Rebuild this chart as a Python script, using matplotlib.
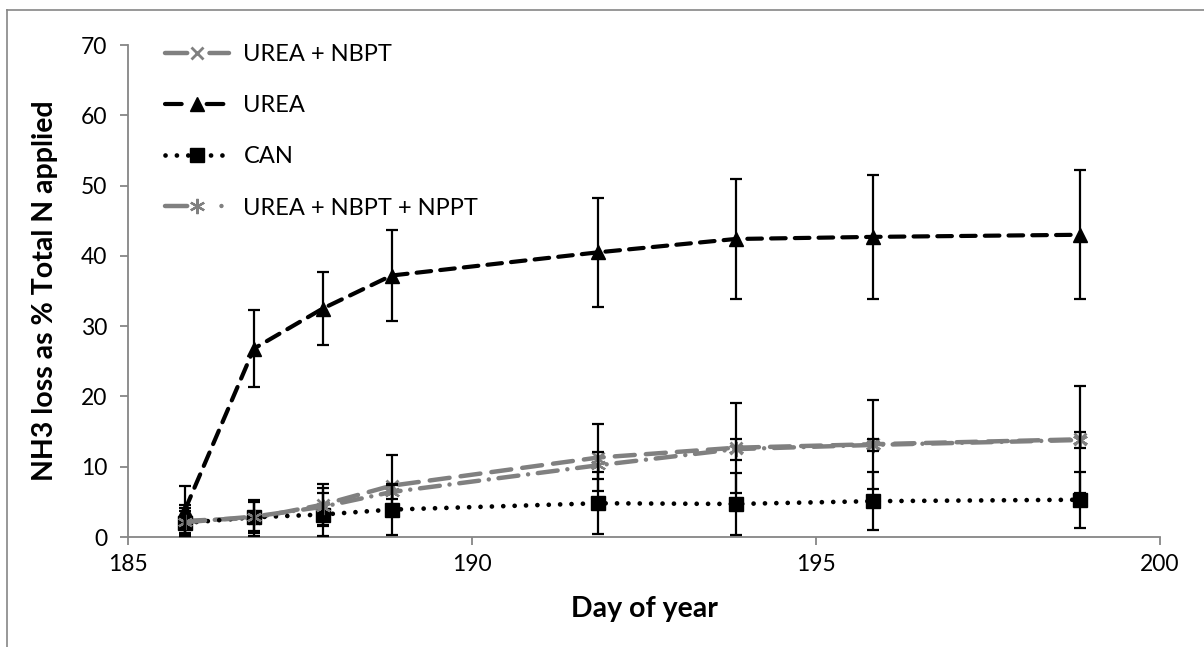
import matplotlib
matplotlib.use("Agg")
import matplotlib.pyplot as plt
from matplotlib.lines import Line2D

plt.rcParams['font.family'] = ['Lato', 'DejaVu Sans']

# day of year for each sampling
days = [185.83, 186.83, 187.83, 188.83, 191.83, 193.83, 195.83, 198.83]

# NH3 loss (% of total N applied) and error bars
urea_nbpt = [2.3, 2.7, 4.6, 7.3, 11.3, 12.7, 13.2, 13.9]
urea_nbpt_err = [2.2, 2.6, 2.9, 4.3, 4.8, 6.4, 6.3, 7.6]

urea = [3.9, 26.8, 32.5, 37.2, 40.5, 42.4, 42.7, 43.0]
urea_err = [3.3, 5.5, 5.2, 6.5, 7.75, 8.55, 8.8, 9.15]

can = [2.0, 2.8, 3.2, 3.9, 4.8, 4.7, 5.1, 5.3]
can_err = [1.7, 2.3, 3.1, 3.6, 4.4, 4.4, 4.1, 4.0]

urea_nbpt_nppt = [2.1, 2.9, 4.3, 6.4, 10.2, 12.5, 13.1, 13.8]
urea_nbpt_nppt_err = [2.0, 2.1, 2.7, 1.0, 1.9, 1.5, 0.8, 1.2]

grey = '#808080'
axis_grey = '#868686'

fig = plt.figure(figsize=(12.04, 6.47), dpi=100)
ax = fig.add_axes([128 / 1204, 1 - 537 / 647, (1160 - 128) / 1204, (537 - 45) / 647])

# (label, values, errors, line style, dash pattern used in the legend key)
series = [
    ('UREA + NBPT', urea_nbpt, urea_nbpt_err,
     dict(color=grey, lw=3.2, ls=(0, (4.5, 2.5)), marker='x', ms=9, mew=2),
     (0, (5.0, 5.0))),
    ('UREA', urea, urea_err,
     dict(color='black', lw=3.0, ls=(0, (3.5, 2.2)), marker='^', ms=10),
     (0, (4.0, 6.0))),
    ('CAN', can, can_err,
     dict(color='black', lw=3.4, ls=(0, (0.01, 2.4)), marker='s', ms=9.5),
     (0, (0.01, 2.4))),
    ('UREA + NBPT + NPPT', urea_nbpt_nppt, urea_nbpt_nppt_err,
     dict(color=grey, lw=3.2, ls=(0, (4.5, 2.2, 0.01, 2.2)),
          marker=(6, 2, 0), ms=11, mew=1.6),
     (0, (5.0, 7.7, 0.01, 10))),
]

handles = []
for label, vals, errs, style, key_ls in series:
    ax.plot(days, vals, dash_capstyle='round', solid_capstyle='round',
            zorder=3, **style)
    ax.errorbar(days, vals, yerr=errs, fmt='none', ecolor='black',
                elinewidth=1.6, capsize=4.5, capthick=1.6, zorder=4)
    key_style = dict(style, ls=key_ls)
    handles.append(Line2D([], [], label=label, dash_capstyle='round',
                          **key_style))

ax.set_xlim(185, 200)
ax.set_ylim(0, 70)
ax.set_xticks([185, 190, 195, 200])
ax.set_yticks(range(0, 71, 10))

for side in ['top', 'right']:
    ax.spines[side].set_visible(False)
for side in ['left', 'bottom']:
    ax.spines[side].set_color(axis_grey)
    ax.spines[side].set_linewidth(1.3)
ax.tick_params(axis='both', colors=axis_grey, labelcolor='black',
               labelsize=16.5, length=6, width=1.3)
ax.tick_params(axis='y', pad=9)
ax.tick_params(axis='x', pad=6)

ax.set_xlabel('Day of year', fontsize=20.5, fontweight='bold', labelpad=15)
ax.set_ylabel('NH3 loss as % Total N applied', fontsize=20.5,
              fontweight='bold', labelpad=16)

ax.legend(handles=handles, loc='upper left', frameon=False, fontsize=17,
          bbox_to_anchor=(165 / 1204, 1 - 44 / 647),
          bbox_transform=fig.transFigure, borderaxespad=0, borderpad=0,
          handlelength=2.7, handletextpad=0.62, labelspacing=1.28)

# chart area border
fig.add_artist(Line2D([7 / 1204, 1], [1 - 10 / 647, 1 - 10 / 647],
                      transform=fig.transFigure, color=axis_grey, lw=1.2))
fig.add_artist(Line2D([7 / 1204, 7 / 1204], [0, 1 - 10 / 647],
                      transform=fig.transFigure, color=axis_grey, lw=1.2))

fig.savefig('out.png', dpi=100)
